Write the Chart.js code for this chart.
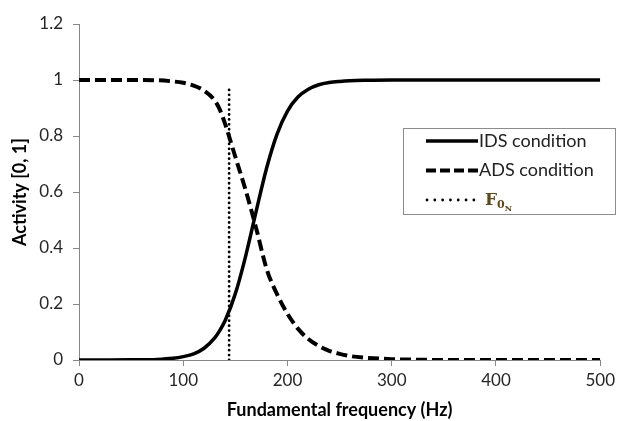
<!DOCTYPE html>
<html>
<head>
<meta charset="utf-8">
<script src="https://cdn.jsdelivr.net/npm/chart.js@4.4.0/dist/chart.umd.min.js"></script>
<style>
  html, body { margin: 0; padding: 0; background: #fff; }
  #wrap { width: 619px; height: 421px; }
</style>
</head>
<body>
<div id="wrap"><canvas id="myChart"></canvas></div>
<script>
// Frequency (Hz) sampled along both curves
const freq = [0, 25, 50, 75, 90, 100, 110, 120, 130, 135, 140, 150, 160, 170, 180, 190, 200, 210, 220, 230, 240, 250, 260, 275, 300, 325, 350, 400, 450, 500];
// Activity
const idsValues = [0, 0.0001, 0.0005, 0.002, 0.006, 0.012, 0.022, 0.042, 0.078, 0.105, 0.139, 0.237, 0.373, 0.532, 0.686, 0.807, 0.889, 0.939, 0.967, 0.983, 0.991, 0.995, 0.9975, 0.999, 1, 1, 1, 1, 1, 1];
const adsValues = [1, 1, 1, 0.999, 0.995, 0.99, 0.98, 0.962, 0.928, 0.895, 0.845, 0.725, 0.605, 0.47, 0.325, 0.235, 0.165, 0.112, 0.075, 0.05, 0.033, 0.022, 0.014, 0.008, 0.003, 0.001, 0, 0, 0, 0];
// Vertical marker for F0N
const f0nX = [144, 144];
const f0nY = [0, 0.98];

const toPoints = (xs, ys) => xs.map((x, i) => ({ x: x, y: ys[i] }));

const FONT = 'Lato, "Open Sans", sans-serif';

// legend box drawn inside the plot, like the original
const legendBox = {
    id: 'legendBox',
    afterDraw(chart) {
        const c = chart.ctx;
        c.save();
        c.strokeStyle = '#8c8c8c';
        c.lineWidth = 1;
        c.strokeRect(403.5, 128.5, 212, 86);

        const rows = [141, 170.5, 200];
        const x0 = 426, x1 = 478;

        c.strokeStyle = '#000';
        c.lineCap = 'butt';
        // IDS
        c.lineWidth = 3.5;
        c.setLineDash([]);
        c.beginPath(); c.moveTo(x0, rows[0]); c.lineTo(x1, rows[0]); c.stroke();
        // ADS
        c.lineWidth = 4;
        c.setLineDash([10, 4]);
        c.beginPath(); c.moveTo(x0, rows[1]); c.lineTo(x1, rows[1]); c.stroke();
        // F0N
        c.lineWidth = 2.8;
        c.lineCap = 'round';
        c.setLineDash([0.01, 7.8]);
        c.beginPath(); c.moveTo(x0 + 1, rows[2]); c.lineTo(x1 - 4, rows[2]); c.stroke();
        c.setLineDash([]);
        c.lineCap = 'butt';

        c.fillStyle = '#222';
        c.font = '18px ' + FONT;
        c.textBaseline = 'middle';
        c.textAlign = 'left';
        c.fillText('IDS condition', 479, rows[0]);
        c.fillText('ADS condition', 479, rows[1]);

        // F with subscript 0 and sub-subscript N
        c.fillStyle = '#5c4a1c';
        c.textBaseline = 'alphabetic';
        c.font = 'bold 17px "DejaVu Serif", "Liberation Serif", serif';
        c.fillText('F', 485, 205);
        const fw = c.measureText('F').width;
        c.font = 'bold 11px "DejaVu Serif", "Liberation Serif", serif';
        c.fillText('0', 485 + fw, 208);
        const zw = c.measureText('0').width;
        c.font = 'bold 8px "DejaVu Serif", "Liberation Serif", serif';
        c.fillText('N', 485 + fw + zw, 211);
        c.restore();
    }
};

const data = {
    datasets: [
        {
            label: 'IDS condition',
            data: toPoints(freq, idsValues),
            borderColor: '#000',
            borderWidth: 3.5,
            pointRadius: 0,
            cubicInterpolationMode: 'monotone',
            fill: false
        },
        {
            label: 'ADS condition',
            data: toPoints(freq, adsValues),
            borderColor: '#000',
            borderWidth: 4,
            borderDash: [11, 5],
            pointRadius: 0,
            cubicInterpolationMode: 'monotone',
            fill: false
        },
        {
            label: 'F0N',
            data: toPoints(f0nX, f0nY),
            borderColor: '#000',
            borderWidth: 2.8,
            borderCapStyle: 'round',
            borderDash: [0.01, 4.9],
            pointRadius: 0,
            fill: false
        }
    ]
};

const axisGray = '#868686';

const config = {
    type: 'line',
    data: data,
    options: {
        responsive: true,
        maintainAspectRatio: false,
        animation: false,
        layout: { padding: { top: 24, right: 16, left: 0, bottom: 0 } },
        plugins: {
            legend: { display: false },
            tooltip: { enabled: false }
        },
        scales: {
            x: {
                type: 'linear',
                min: 0,
                max: 500,
                afterFit: (s) => { s.height = 61; },
                ticks: {
                    stepSize: 100,
                    color: '#262626',
                    padding: 4,
                    font: { family: FONT, size: 17 }
                },
                grid: { display: true, drawOnChartArea: false, drawTicks: true, tickLength: 6, color: axisGray },
                border: { color: axisGray, width: 1 },
                title: {
                    display: true,
                    text: 'Fundamental frequency (Hz)',
                    color: '#000',
                    padding: { top: 4, bottom: 0 },
                    font: { family: FONT, size: 18, weight: 'bold' }
                }
            },
            y: {
                min: 0,
                max: 1.2,
                afterFit: (s) => { s.width = 79; },
                ticks: {
                    stepSize: 0.2,
                    color: '#262626',
                    padding: 10,
                    font: { family: FONT, size: 17 },
                    callback: (v) => String(Math.round(v * 10) / 10)
                },
                grid: { display: true, drawOnChartArea: false, drawTicks: true, tickLength: 6, color: axisGray },
                border: { color: axisGray, width: 1 },
                title: {
                    display: true,
                    text: 'Activity [0, 1]',
                    color: '#000',
                    padding: { top: 9, bottom: 4 },
                    font: { family: FONT, size: 18, weight: 'bold' }
                }
            }
        }
    },
    plugins: [legendBox]
};

const myChart = new Chart(document.getElementById('myChart').getContext('2d'), config);
</script>
</body>
</html>
